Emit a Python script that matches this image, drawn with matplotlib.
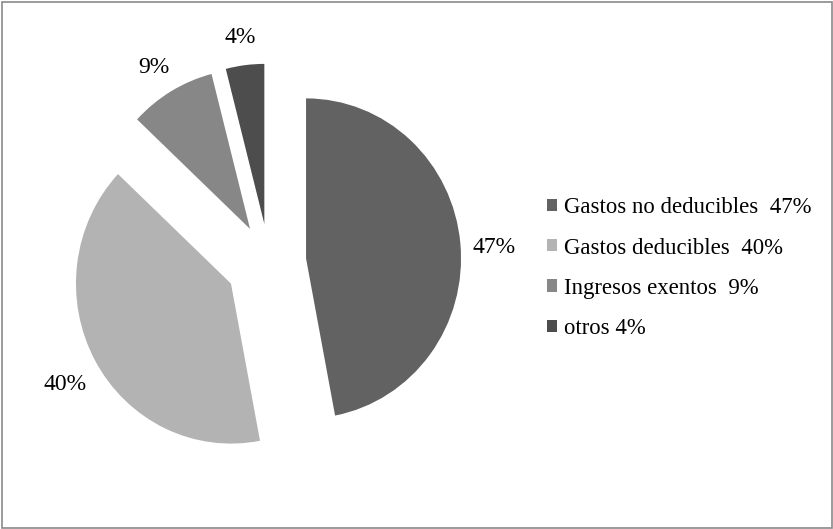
import matplotlib
matplotlib.use("Agg")
import matplotlib.pyplot as plt
from matplotlib.patches import Rectangle

categories = ["Gastos no deducibles  47%", "Gastos deducibles  40%",
              "Ingresos exentos  9%", "otros 4%"]
values = [47, 40, 9, 4]
colors = ["#626262", "#b3b3b3", "#878787", "#4d4d4d"]
explode = [0.24, 0.28, 0.24, 0.24]

W, H = 833, 529
fig = plt.figure(figsize=(W / 100, H / 100), dpi=100)
ax = fig.add_axes([0, 0, 1, 1])

font = {"family": "Liberation Serif", "size": 17}
legend_font = {"family": "Liberation Serif", "size": 16.4}

wedges, texts, autotexts = ax.pie(
    values,
    colors=colors,
    startangle=90,
    counterclock=False,
    explode=explode,
    autopct="%1.0f%%",
    pctdistance=1.22,
    textprops=font,
    wedgeprops={"linewidth": 0},
)

# pie centre in pixels, radius scales (px per unit) horizontally / vertically
cx, cy, sx, sy = 269, 262, 155, 160
ax.set_xlim(-cx / sx, (W - cx) / sx)
ax.set_ylim(-(H - cy) / sy, cy / sy)
ax.set_aspect("auto")
ax.axis("off")

# nudge the percentage labels slightly downwards
for t in autotexts:
    x, y = t.get_position()
    t.set_position((x, y - 7 / sy))

fig.legend(wedges, categories, loc="upper left",
           bbox_to_anchor=(536 / W, 1 - 186 / H), frameon=False,
           prop=legend_font, handlelength=0.44, handleheight=0.44,
           handletextpad=0.3, labelspacing=0.84, borderpad=0)

fig.add_artist(Rectangle((1.5 / W, 1.5 / H), 1 - 3 / W, 1 - 3 / H,
                         transform=fig.transFigure, fill=False,
                         edgecolor="#8a8a8a", linewidth=1.2))

fig.savefig("out.png", dpi=100)
